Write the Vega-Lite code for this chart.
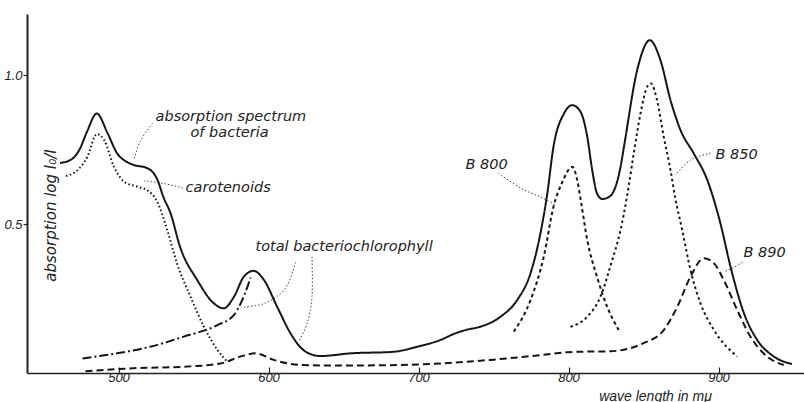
{
  "$schema": "https://vega.github.io/schema/vega-lite/v6.json",
  "width": 777,
  "height": 359,
  "autosize": {"type": "none"},
  "padding": {"left": 27, "top": 14, "right": 0, "bottom": 29},
  "background": "white",
  "config": {"view": {"stroke": null}, "font": "Liberation Sans"},
  "datasets": {
    "curves": [
      {"s":"spectrum","nm":461,"a":0.705},{"s":"spectrum","nm":468,"a":0.715},{"s":"spectrum","nm":474,"a":0.75},{"s":"spectrum","nm":479,"a":0.81},{"s":"spectrum","nm":485.5,"a":0.871},{"s":"spectrum","nm":492.7,"a":0.805},{"s":"spectrum","nm":499,"a":0.738},{"s":"spectrum","nm":505,"a":0.71},{"s":"spectrum","nm":510.4,"a":0.698},{"s":"spectrum","nm":519,"a":0.688},{"s":"spectrum","nm":526,"a":0.648},{"s":"spectrum","nm":530,"a":0.59},{"s":"spectrum","nm":534.7,"a":0.536},{"s":"spectrum","nm":541,"a":0.424},{"s":"spectrum","nm":552.5,"a":0.312},{"s":"spectrum","nm":563.5,"a":0.234},{"s":"spectrum","nm":570,"a":0.217},{"s":"spectrum","nm":577,"a":0.256},{"s":"spectrum","nm":583.5,"a":0.323},{"s":"spectrum","nm":590,"a":0.343},{"s":"spectrum","nm":597,"a":0.312},{"s":"spectrum","nm":605.8,"a":0.222},{"s":"spectrum","nm":614.7,"a":0.133},{"s":"spectrum","nm":621,"a":0.088},{"s":"spectrum","nm":626,"a":0.068},{"s":"spectrum","nm":634.7,"a":0.057},{"s":"spectrum","nm":654.7,"a":0.066},{"s":"spectrum","nm":683,"a":0.071},{"s":"spectrum","nm":699,"a":0.088},{"s":"spectrum","nm":714.7,"a":0.111},{"s":"spectrum","nm":724,"a":0.132},{"s":"spectrum","nm":732,"a":0.145},{"s":"spectrum","nm":741,"a":0.155},{"s":"spectrum","nm":754.7,"a":0.189},{"s":"spectrum","nm":765.8,"a":0.245},{"s":"spectrum","nm":774.7,"a":0.335},{"s":"spectrum","nm":781.3,"a":0.469},{"s":"spectrum","nm":785.8,"a":0.6},{"s":"spectrum","nm":790,"a":0.76},{"s":"spectrum","nm":797,"a":0.871},{"s":"spectrum","nm":802.5,"a":0.899},{"s":"spectrum","nm":808,"a":0.877},{"s":"spectrum","nm":812.5,"a":0.793},{"s":"spectrum","nm":815.8,"a":0.681},{"s":"spectrum","nm":819,"a":0.603},{"s":"spectrum","nm":822.5,"a":0.584},{"s":"spectrum","nm":828,"a":0.595},{"s":"spectrum","nm":834.7,"a":0.692},{"s":"spectrum","nm":837,"a":0.76},{"s":"spectrum","nm":845.8,"a":1.017},{"s":"spectrum","nm":854.2,"a":1.117},{"s":"spectrum","nm":861.3,"a":1.05},{"s":"spectrum","nm":868,"a":0.916},{"s":"spectrum","nm":874.7,"a":0.815},{"s":"spectrum","nm":883.5,"a":0.737},{"s":"spectrum","nm":892.5,"a":0.648},{"s":"spectrum","nm":897,"a":0.58},{"s":"spectrum","nm":901.3,"a":0.502},{"s":"spectrum","nm":908,"a":0.357},{"s":"spectrum","nm":917,"a":0.2},{"s":"spectrum","nm":925.8,"a":0.111},{"s":"spectrum","nm":937,"a":0.055},{"s":"spectrum","nm":949,"a":0.03},
      {"s":"carotenoids","nm":465,"a":0.661},{"s":"carotenoids","nm":472.7,"a":0.681},{"s":"carotenoids","nm":479.3,"a":0.726},{"s":"carotenoids","nm":485.5,"a":0.802},{"s":"carotenoids","nm":490.4,"a":0.782},{"s":"carotenoids","nm":497,"a":0.692},{"s":"carotenoids","nm":503.8,"a":0.642},{"s":"carotenoids","nm":512.7,"a":0.625},{"s":"carotenoids","nm":519,"a":0.614},{"s":"carotenoids","nm":525.8,"a":0.575},{"s":"carotenoids","nm":532.5,"a":0.48},{"s":"carotenoids","nm":539,"a":0.368},{"s":"carotenoids","nm":548,"a":0.256},{"s":"carotenoids","nm":557,"a":0.155},{"s":"carotenoids","nm":566,"a":0.077},{"s":"carotenoids","nm":572.5,"a":0.038},
      {"s":"bchl","nm":476,"a":0.049},{"s":"bchl","nm":499,"a":0.066},{"s":"bchl","nm":521,"a":0.088},{"s":"bchl","nm":543.5,"a":0.122},{"s":"bchl","nm":566,"a":0.161},{"s":"bchl","nm":577,"a":0.195},{"s":"bchl","nm":581.5,"a":0.234},{"s":"bchl","nm":586,"a":0.29},{"s":"bchl","nm":588,"a":0.32},
      {"s":"B890","nm":478,"a":0.006},{"s":"B890","nm":510,"a":0.016},{"s":"B890","nm":543.5,"a":0.021},{"s":"B890","nm":568,"a":0.032},{"s":"B890","nm":581.3,"a":0.055},{"s":"B890","nm":591.3,"a":0.066},{"s":"B890","nm":603.5,"a":0.044},{"s":"B890","nm":621,"a":0.027},{"s":"B890","nm":643.5,"a":0.025},{"s":"B890","nm":688,"a":0.027},{"s":"B890","nm":714.7,"a":0.032},{"s":"B890","nm":748,"a":0.044},{"s":"B890","nm":781.3,"a":0.06},{"s":"B890","nm":803.5,"a":0.071},{"s":"B890","nm":828,"a":0.073},{"s":"B890","nm":850,"a":0.1},{"s":"B890","nm":863.5,"a":0.144},{"s":"B890","nm":872.5,"a":0.222},{"s":"B890","nm":881.3,"a":0.323},{"s":"B890","nm":890.2,"a":0.385},{"s":"B890","nm":897,"a":0.368},{"s":"B890","nm":903.5,"a":0.312},{"s":"B890","nm":912.5,"a":0.211},{"s":"B890","nm":921.3,"a":0.122},{"s":"B890","nm":932.5,"a":0.055},{"s":"B890","nm":943.5,"a":0.027},
      {"s":"B800","nm":763.5,"a":0.139},{"s":"B800","nm":774.7,"a":0.245},{"s":"B800","nm":783.5,"a":0.39},{"s":"B800","nm":790,"a":0.558},{"s":"B800","nm":795.8,"a":0.64},{"s":"B800","nm":802.5,"a":0.692},{"s":"B800","nm":805.8,"a":0.648},{"s":"B800","nm":808.5,"a":0.57},{"s":"B800","nm":812.5,"a":0.446},{"s":"B800","nm":819,"a":0.323},{"s":"B800","nm":825.8,"a":0.222},{"s":"B800","nm":833.5,"a":0.144},
      {"s":"B850","nm":801.3,"a":0.155},{"s":"B850","nm":812.5,"a":0.189},{"s":"B850","nm":821.3,"a":0.256},{"s":"B850","nm":828,"a":0.36},{"s":"B850","nm":834.7,"a":0.48},{"s":"B850","nm":839,"a":0.592},{"s":"B850","nm":843.5,"a":0.737},{"s":"B850","nm":848,"a":0.871},{"s":"B850","nm":852.5,"a":0.961},{"s":"B850","nm":855,"a":0.972},{"s":"B850","nm":859,"a":0.916},{"s":"B850","nm":863.5,"a":0.793},{"s":"B850","nm":868,"a":0.681},{"s":"B850","nm":871,"a":0.592},{"s":"B850","nm":875.8,"a":0.48},{"s":"B850","nm":881.3,"a":0.346},{"s":"B850","nm":888,"a":0.234},{"s":"B850","nm":897,"a":0.144},{"s":"B850","nm":912.5,"a":0.055}
    ],
    "pointers": [
      {"p":"p1","i":1,"nm":522.7,"a":0.838},{"p":"p1","i":2,"nm":514.9,"a":0.782},{"p":"p1","i":3,"nm":510.5,"a":0.72},
      {"p":"p2","i":1,"nm":543,"a":0.621},{"p":"p2","i":2,"nm":530,"a":0.636},{"p":"p2","i":3,"nm":517,"a":0.645},
      {"p":"p3","i":1,"nm":618,"a":0.372},{"p":"p3","i":2,"nm":611.3,"a":0.285},{"p":"p3","i":3,"nm":598,"a":0.235},{"p":"p3","i":4,"nm":582,"a":0.22},
      {"p":"p4","i":1,"nm":629,"a":0.39},{"p":"p4","i":2,"nm":629,"a":0.256},{"p":"p4","i":3,"nm":625.8,"a":0.167},{"p":"p4","i":4,"nm":620.2,"a":0.105},
      {"p":"p5","i":1,"nm":753.3,"a":0.671},{"p":"p5","i":2,"nm":768,"a":0.621},{"p":"p5","i":3,"nm":781.3,"a":0.591},{"p":"p5","i":4,"nm":791.3,"a":0.564},
      {"p":"p6","i":1,"nm":894.7,"a":0.738},{"p":"p6","i":2,"nm":881.3,"a":0.715},{"p":"p6","i":3,"nm":871.3,"a":0.664},
      {"p":"p7","i":1,"nm":916,"a":0.372},{"p":"p7","i":2,"nm":909.3,"a":0.352},{"p":"p7","i":3,"nm":903.3,"a":0.339}
    ],
    "labels": [
      {"t":"absorption spectrum","nm":524.7,"a":0.859},
      {"t":"of bacteria","nm":548,"a":0.805},
      {"t":"carotenoids","nm":544.7,"a":0.621},
      {"t":"total bacteriochlorophyll","nm":591.3,"a":0.423},
      {"t":"B 800","nm":731.3,"a":0.698},
      {"t":"B 850","nm":898,"a":0.732},
      {"t":"B 890","nm":916.7,"a":0.403}
    ]
  },
  "encoding": {
    "x": {"field": "nm", "type": "quantitative", "scale": {"domain": [439, 957], "nice": false, "zero": false},
      "axis": {"values": [500, 600, 700, 800, 900], "grid": false, "title": "wave length in mμ",
        "titleFontStyle": "italic", "titleFontWeight": "normal", "titleFontSize": 14, "titleColor": "#222",
        "titleX": 628, "titleY": 16, "titleBaseline": "top", "titleAlign": "center", "titleAnchor": null,
        "labelFontStyle": "italic", "labelFontSize": 13, "labelColor": "#222", "labelPadding": 4,
        "tickSize": -6, "tickColor": "#222", "tickWidth": 1.2, "domainColor": "#222", "domainWidth": 1.5}},
    "y": {"field": "a", "type": "quantitative", "scale": {"domain": [0, 1.205], "nice": false, "zero": false},
      "axis": {"values": [0.5, 1.0], "format": ".1f", "grid": false, "title": "absorption  log I₀/I",
        "titleAngle": 270, "titleX": 23, "titleY": 201, "titleAlign": "center", "titleBaseline": "middle",
        "titleFont": "DejaVu Sans", "titleFontStyle": "italic", "titleFontWeight": "normal", "titleFontSize": 15, "titleColor": "#222",
        "labelFontStyle": "italic", "labelFontSize": 13, "labelColor": "#222", "labelPadding": 1,
        "tickSize": 4, "tickColor": "#222", "tickWidth": 1.2, "domainColor": "#222", "domainWidth": 2}}
  },
  "layer": [
    {
      "data": {"name": "curves"},
      "mark": {"type": "line", "interpolate": "monotone", "color": "#151515", "strokeWidth": 2},
      "encoding": {
        "detail": {"field": "s"},
        "strokeDash": {"field": "s", "type": "nominal", "legend": null,
          "scale": {"domain": ["spectrum", "carotenoids", "bchl", "B800", "B850", "B890"],
            "range": [[1, 0], [1.5, 2.5], [9, 3, 2, 3], [3.5, 3], [2.5, 3], [7, 4]]}}
      }
    },
    {
      "data": {"name": "pointers"},
      "mark": {"type": "line", "interpolate": "cardinal", "color": "#444", "strokeWidth": 1, "strokeDash": [1.5, 2]},
      "encoding": {"detail": {"field": "p"}, "order": {"field": "i", "type": "quantitative"}}
    },
    {
      "data": {"name": "labels"},
      "mark": {"type": "text", "align": "left", "baseline": "middle", "font": "DejaVu Sans", "fontStyle": "italic", "fontSize": 14.5, "color": "#222"},
      "encoding": {"text": {"field": "t"}}
    },
    {
      "mark": {"type": "rule", "color": "#222", "strokeWidth": 2},
      "encoding": {"y": {"datum": 1.205}}
    }
  ]
}
